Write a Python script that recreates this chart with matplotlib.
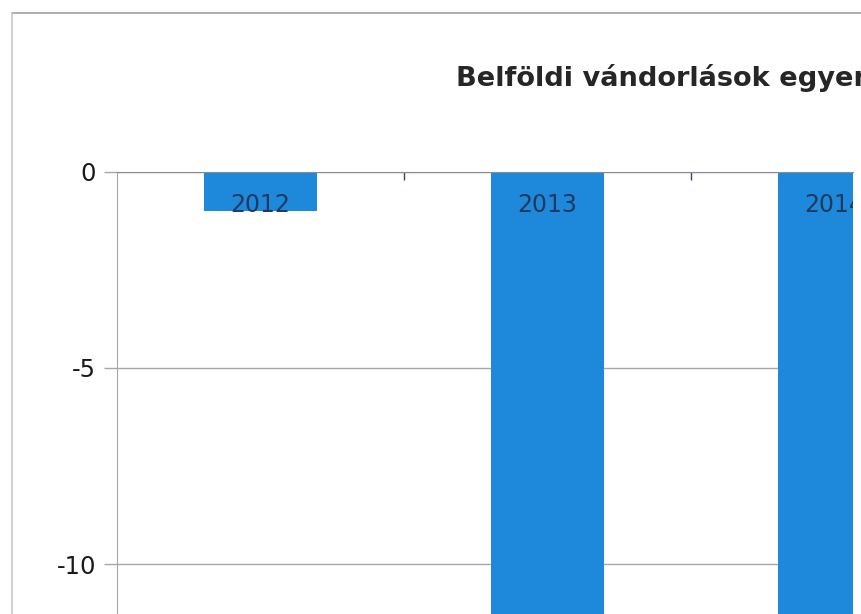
import matplotlib.pyplot as plt
from matplotlib.lines import Line2D

years = ['2012', '2013', '2014']
values = [-1.0, -14.0, -13.5]   # 2013 and 2014 run off the bottom of the crop
yticks = [0, -5, -10]
title = 'Belföldi vándorlások egyenlege'

bar_color = '#1e88da'
grid_color = '#a6a6a6'
label_color = '#1f3a5f'

W, H = 861, 614
fig = plt.figure(figsize=(W / 100, H / 100), dpi=100)

# plot area runs past the bottom edge of the picture, as in the scan
ax = fig.add_axes([117 / W, 0, (853 - 117) / W, 1 - 171.5 / H])

x = list(range(len(years)))
ax.bar(x, values, width=0.394, color=bar_color, zorder=3)

for i, yr in enumerate(years):
    ax.annotate(yr, (i, 0), xytext=(0, -33), textcoords='offset pixels',
                ha='center', va='center', fontsize=17, color=label_color,
                zorder=4, annotation_clip=True, clip_on=True)

ax.set_xlim(-0.5, 2.064)
ax.set_ylim(-11.27, 0)

ax.set_yticks(yticks)
ax.set_yticklabels([str(t) for t in yticks])
ax.yaxis.grid(True, color=grid_color, linewidth=1.0, zorder=0)
ax.tick_params(axis='y', length=9.4, width=1.0, color=grid_color,
               pad=5.8, labelsize=17.5, labelcolor='#1a1a1a')

ax.xaxis.tick_top()
ax.set_xticks([0.5, 1.5])
ax.tick_params(axis='x', direction='in', length=6, width=1.0,
               color='#2b3f8f', labeltop=False)

for side in ['right', 'bottom']:
    ax.spines[side].set_visible(False)
ax.spines['left'].set_color(grid_color)
ax.spines['top'].set_color('#8c8c8c')
ax.spines['top'].set_zorder(5)

# outer chart frame
fig.add_artist(Line2D([12 / W, 1], [1 - 13 / H, 1 - 13 / H],
                      transform=fig.transFigure, color='#a0a0a0', lw=1.2))
fig.add_artist(Line2D([12 / W, 12 / W], [0, 1 - 13 / H],
                      transform=fig.transFigure, color='#c4c4de', lw=1.2))

fig.text(456 / W, 1 - 86 / H, title, ha='left', va='baseline',
         fontsize=19.6, fontweight='bold', color='#262626')

fig.savefig('out.png', dpi=100)
